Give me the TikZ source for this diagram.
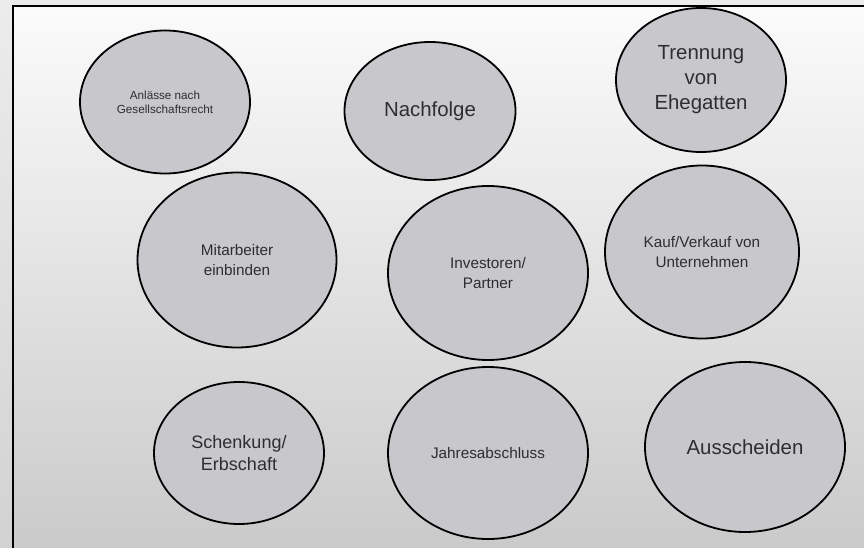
\documentclass[tikz,border=0pt]{standalone}
\usepackage{fontspec}
\setmainfont{Liberation Sans}
\usepackage{tikz}
\usetikzlibrary{shapes.geometric}
\usepackage{xcolor}
\definecolor{bubblegray}{RGB}{200,200,204}
\definecolor{bubbletext}{RGB}{45,45,50}

\tikzset{
    bubble/.style={ellipse, draw=black, line width=1.8pt, fill=bubblegray,
        inner sep=0pt, align=center, text=bubbletext},
    txtS/.style={font=\fontsize{11.7}{14}\selectfont},
    txtM/.style={font=\fontsize{15.3}{19.5}\selectfont},
    txtB/.style={font=\fontsize{18}{22}\selectfont},
    txtL/.style={font=\fontsize{20.4}{25}\selectfont}
}

\begin{document}
\begin{tikzpicture}[x=1pt, y=-1pt]
    \useasboundingbox (0,0) rectangle (864,548);

    % Background and frame
    \shade[top color={rgb,255:red,236;green,236;blue,236}, bottom color={rgb,255:red,210;green,210;blue,210}] (0,0) rectangle (864,548);
    \shade[top color={rgb,255:red,251;green,251;blue,251}, bottom color={rgb,255:red,202;green,202;blue,202}] (13,6) rectangle (864,548);
    \draw[line width=2pt] (13,548) -- (13,6) -- (864,6);

    % Top row
    \node[bubble, txtS, minimum width=170, minimum height=143] (anlaesse) at (165,102) {Anlässe nach\\Gesellschaftsrecht};
    \node[bubble, txtL, minimum width=171, minimum height=138] (nachfolge) at (430,111) {Nachfolge};
    \node[bubble, txtL, minimum width=170, minimum height=144] (trennung) at (701,80) {Trennung\\von\\Ehegatten};

    % Middle row
    \node[bubble, txtM, minimum width=199, minimum height=175] (mitarbeiter) at (237,260) {Mitarbeiter\\einbinden};
    \node[bubble, txtM, minimum width=200, minimum height=174] (investoren) at (488,273) {Investoren/\\Partner};
    \node[bubble, txtM, minimum width=194, minimum height=173] (kauf) at (702,252) {Kauf/Verkauf von\\Unternehmen};

    % Bottom row
    \node[bubble, txtB, minimum width=170, minimum height=142] (schenkung) at (239,453) {Schenkung/\\Erbschaft};
    \node[bubble, txtM, minimum width=200, minimum height=172] (jahres) at (488,453) {Jahresabschluss};
    \node[bubble, txtL, minimum width=200, minimum height=170] (ausscheiden) at (745,447) {Ausscheiden};
\end{tikzpicture}
\end{document}
